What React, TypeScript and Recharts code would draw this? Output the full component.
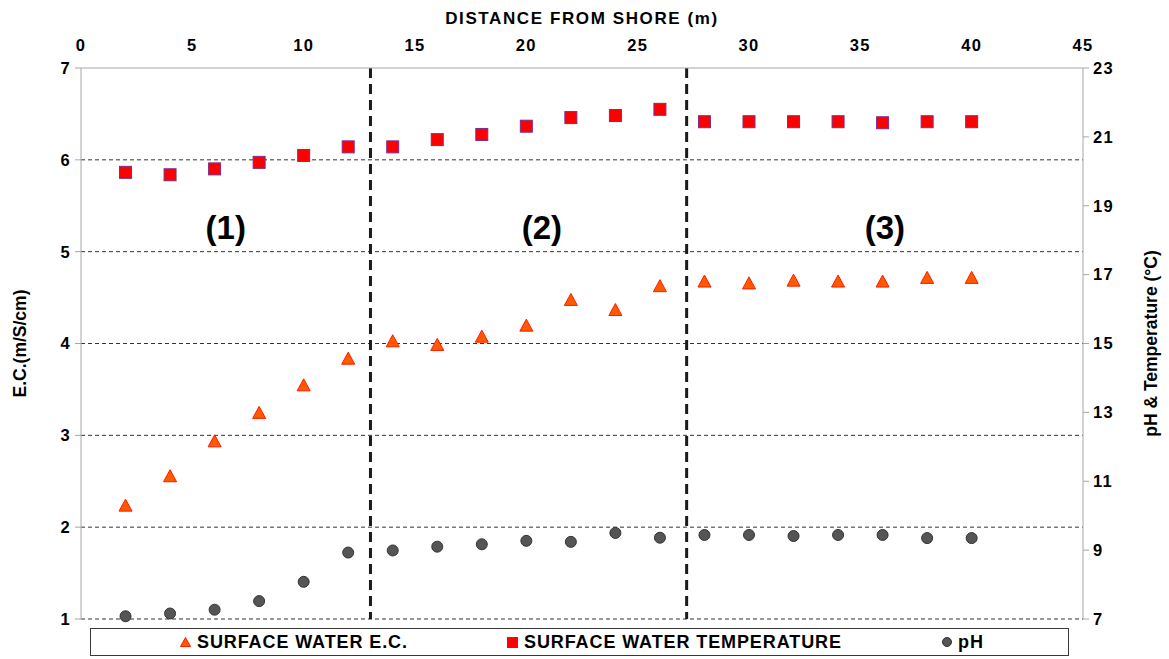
import React from "react";
import {
  ScatterChart,
  Scatter,
  XAxis,
  YAxis,
  CartesianGrid,
  ReferenceLine,
  ReferenceDot,
  Legend,
} from "recharts";

// distance from shore (m)
const distance = [2, 4, 6, 8, 10, 12, 14, 16, 18, 20, 22, 24, 26, 28, 30, 32, 34, 36, 38, 40];
// E.C. (m/S/cm), left axis
const surfaceEC = [2.24, 2.56, 2.94, 3.25, 3.55, 3.84, 4.03, 3.99, 4.08, 4.2, 4.48, 4.37, 4.63, 4.68, 4.66, 4.69, 4.68, 4.68, 4.72, 4.72];
// temperature (°C), right axis
const surfaceTemp = [19.97, 19.9, 20.07, 20.26, 20.46, 20.71, 20.71, 20.92, 21.07, 21.31, 21.56, 21.62, 21.8, 21.44, 21.44, 21.44, 21.44, 21.41, 21.44, 21.44];
// pH, right axis
const phValues = [7.08, 7.16, 7.27, 7.52, 8.08, 8.93, 8.99, 9.1, 9.17, 9.27, 9.24, 9.5, 9.36, 9.44, 9.44, 9.41, 9.44, 9.44, 9.35, 9.35];

const distanceTicks = [0, 5, 10, 15, 20, 25, 30, 35, 40, 45];
const ecTicks = [1, 2, 3, 4, 5, 6, 7];
const gridLevels = [1, 2, 3, 4, 5, 6];
const rightTicks = [7, 9, 11, 13, 15, 17, 19, 21, 23];

// zone boundaries and zone captions
const zoneBounds = [13, 27.2];
const zoneLabels = ["(1)", "(2)", "(3)"];
const zoneLabelX = [6.5, 20.7, 36.1];
const zoneLabelY = 5.27;

const seriesNames = ["SURFACE WATER E.C.", "SURFACE WATER TEMPERATURE", "pH"];

const FONT = "'Liberation Sans', Arial, sans-serif";
const AXIS_GRAY = "#a6a6a6";

const toPoints = (ys: number[]) => distance.map((x, i) => ({ x, y: ys[i] }));

const ecPoints = toPoints(surfaceEC);
const tempPoints = toPoints(surfaceTemp);
const phPoints = toPoints(phValues);

const TriangleMark = (props: any) => {
  const { cx, cy } = props;
  if (cx == null || cy == null) return null;
  return (
    <path
      d={`M${cx},${cy - 6} L${cx + 6.5},${cy + 6} L${cx - 6.5},${cy + 6} Z`}
      fill="#ff5a00"
      stroke="#ff1a00"
      strokeWidth={1}
    />
  );
};

const SquareMark = (props: any) => {
  const { cx, cy } = props;
  if (cx == null || cy == null) return null;
  return (
    <rect x={cx - 6} y={cy - 6} width={12} height={12} fill="#ff0000" stroke="#7b2c8f" strokeWidth={1} />
  );
};

const CircleMark = (props: any) => {
  const { cx, cy } = props;
  if (cx == null || cy == null) return null;
  return <circle cx={cx} cy={cy} r={5.5} fill="#555555" stroke="#333333" strokeWidth={1} />;
};

// small legend icons
const legendIcons = [
  <svg width={11} height={10} key="t">
    <path d="M5.5,0.5 L10.5,9.5 L0.5,9.5 Z" fill="#ff5a00" stroke="#ff1a00" />
  </svg>,
  <svg width={11} height={11} key="s">
    <rect x={0.5} y={0.5} width={10} height={10} fill="#ff0000" stroke="#7b2c8f" />
  </svg>,
  <svg width={10} height={10} key="c">
    <circle cx={5} cy={5} r={4.5} fill="#555555" stroke="#333333" />
  </svg>,
];
const legendLeft = [89, 416, 851];

const renderLegend = () => (
  <div
    style={{
      position: "relative",
      height: 28,
      boxSizing: "border-box",
      border: "1.5px solid #3a3a3a",
      background: "#fff",
      fontFamily: FONT,
      fontWeight: "bold",
      fontSize: 18,
      letterSpacing: 0.9,
      color: "#000",
    }}
  >
    {seriesNames.map((name, i) => (
      <div
        key={name}
        style={{
          position: "absolute",
          left: legendLeft[i],
          top: 0,
          height: "100%",
          display: "flex",
          alignItems: "center",
          whiteSpace: "nowrap",
        }}
      >
        {legendIcons[i]}
        <span style={{ marginLeft: 6 }}>{name}</span>
      </div>
    ))}
  </div>
);

const tickStyle = {
  fill: "#000",
  fontSize: 16.5,
  fontWeight: "bold",
  fontFamily: FONT,
  letterSpacing: 1.3,
};

const App: React.FC = () => {
  return (
    <div style={{ position: "absolute", left: 0, top: 0, background: "#fff" }}>
      <ScatterChart width={1169} height={659} margin={{ top: 0, right: 0, bottom: 12, left: 0 }}>
        <CartesianGrid
          yAxisId="left"
          vertical={false}
          horizontalValues={gridLevels}
          stroke="#333"
          strokeDasharray="4 3"
        />
        <XAxis
          type="number"
          dataKey="x"
          orientation="top"
          domain={[0, 45]}
          ticks={distanceTicks}
          height={68}
          axisLine={{ stroke: AXIS_GRAY }}
          tickLine={false}
          tickSize={0}
          tickMargin={17}
          tick={tickStyle}
          label={{
            value: "DISTANCE FROM SHORE (m)",
            position: "insideTop",
            offset: 12,
            fill: "#000",
            fontSize: 17,
            fontWeight: "bold",
            fontFamily: FONT,
            letterSpacing: 1.6,
          }}
        />
        <YAxis
          yAxisId="left"
          type="number"
          dataKey="y"
          domain={[1, 7]}
          ticks={ecTicks}
          width={81}
          axisLine={{ stroke: AXIS_GRAY }}
          tickLine={{ stroke: AXIS_GRAY }}
          tickSize={6}
          tickMargin={4}
          tick={tickStyle}
          label={{
            value: "E.C.(m/S/cm)",
            angle: -90,
            position: "insideLeft",
            offset: 20,
            fill: "#000",
            fontSize: 17.5,
            fontWeight: "bold",
            fontFamily: FONT,
            style: { textAnchor: "middle" },
          }}
        />
        <YAxis
          yAxisId="right"
          orientation="right"
          type="number"
          dataKey="y"
          domain={[7, 23]}
          ticks={rightTicks}
          width={86}
          axisLine={{ stroke: AXIS_GRAY }}
          tickLine={{ stroke: AXIS_GRAY }}
          tickSize={6}
          tickMargin={4}
          tick={tickStyle}
          label={{
            value: "pH & Temperature (°C)",
            angle: -90,
            position: "insideRight",
            offset: 18,
            fill: "#000",
            fontSize: 17.5,
            fontWeight: "bold",
            fontFamily: FONT,
            style: { textAnchor: "middle" },
          }}
        />

        {zoneBounds.map((x) => (
          <ReferenceLine
            key={x}
            x={x}
            yAxisId="left"
            stroke="#1a1a1a"
            strokeWidth={3}
            strokeDasharray="10 6"
          />
        ))}

        {zoneLabels.map((txt, i) => (
          <ReferenceDot
            key={txt}
            x={zoneLabelX[i]}
            y={zoneLabelY}
            yAxisId="left"
            r={0}
            fill="none"
            stroke="none"
            label={{
              value: txt,
              position: "center",
              fill: "#000",
              fontSize: 33,
              fontWeight: "bold",
              fontFamily: FONT,
            }}
          />
        ))}

        <Scatter
          name={seriesNames[0]}
          data={ecPoints}
          yAxisId="left"
          shape={TriangleMark}
          isAnimationActive={false}
        />
        <Scatter
          name={seriesNames[1]}
          data={tempPoints}
          yAxisId="right"
          shape={SquareMark}
          isAnimationActive={false}
        />
        <Scatter
          name={seriesNames[2]}
          data={phPoints}
          yAxisId="right"
          shape={CircleMark}
          isAnimationActive={false}
        />

        <Legend
          verticalAlign="bottom"
          content={renderLegend}
          wrapperStyle={{ left: 90, width: 979, bottom: 3 }}
        />
      </ScatterChart>
    </div>
  );
};

export default App;
